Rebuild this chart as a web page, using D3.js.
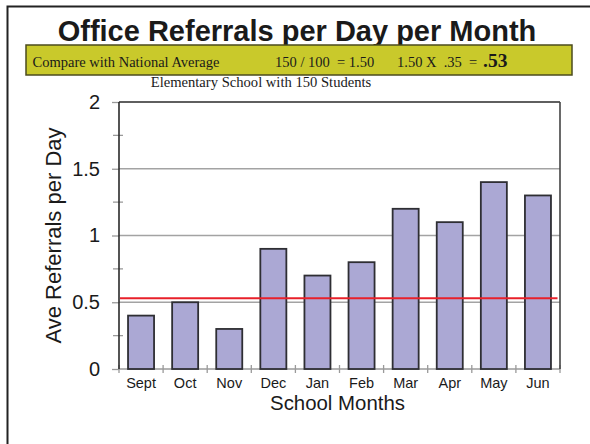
<!DOCTYPE html>
<html>
<head>
<meta charset="utf-8">
<script src="https://cdn.jsdelivr.net/npm/d3@7/dist/d3.min.js"></script>
<style>
  html, body { margin: 0; padding: 0; background: #fff; }
  svg { display: block; }
  text { white-space: pre; }
</style>
</head>
<body>
<svg id="chart" width="590" height="444"></svg>
<script>
// Office referrals per day, averaged for each school month
const months = ["Sept", "Oct", "Nov", "Dec", "Jan", "Feb", "Mar", "Apr", "May", "Jun"];
const referralsPerDay = [0.4, 0.5, 0.3, 0.9, 0.7, 0.8, 1.2, 1.1, 1.4, 1.3];
const majorTicks = [0, 0.5, 1, 1.5, 2];
const minorTicks = [0.25, 0.75, 1.25, 1.75];
const tickFormat = ["0", "0.5", "1", "1.5", "2"];
const nationalAverage = 0.53;

const titleText = "Office Referrals per Day per Month";
const bannerParts = ["Compare with National Average", "150 / 100  = 1.50", "1.50 X  .35  =", ".53"];
const subtitleText = "Elementary School with 150 Students";
const xTitle = "School Months";
const yTitle = "Ave Referrals per Day";

const svg = d3.select("#chart");
const sans = "'Liberation Sans', Arial, sans-serif";
const serif = "'Liberation Serif', 'Times New Roman', serif";

// slide frame
svg.append("rect")
  .attr("x", 7.5).attr("y", 6.5).attr("width", 620).attr("height", 470)
  .attr("fill", "none").attr("stroke", "#222").attr("stroke-width", 2);

// title
svg.append("text")
  .attr("x", 297).attr("y", 41)
  .attr("text-anchor", "middle")
  .attr("font-family", sans).attr("font-weight", "bold").attr("font-size", 29)
  .attr("fill", "#1a1a1a")
  .text(titleText);

// banner comparing with the national average
svg.append("rect")
  .attr("x", 26).attr("y", 45).attr("width", 546).attr("height", 30)
  .attr("fill", "#c9c92b").attr("stroke", "#4b4b1e").attr("stroke-width", 1.5);

const bannerX = [32.5, 275, 397, 483];
bannerParts.forEach((t, i) => {
  const last = i === bannerParts.length - 1;
  svg.append("text")
    .attr("x", bannerX[i]).attr("y", 66.5)
    .attr("font-family", serif)
    .attr("font-size", last ? 19.5 : 14.5)
    .attr("font-weight", last ? "bold" : "normal")
    .attr("fill", "#1a1a1a")
    .text(t);
});

svg.append("text")
  .attr("x", 261).attr("y", 87)
  .attr("text-anchor", "middle")
  .attr("font-family", serif).attr("font-size", 14.6)
  .attr("fill", "#1a1a1a")
  .text(subtitleText);

// plot area
const plot = { left: 119, right: 560, top: 102, bottom: 369 };

const x = d3.scaleBand()
  .domain(months)
  .range([plot.left, plot.right])
  .paddingInner(0.41)
  .paddingOuter(0.205);

const y = d3.scaleLinear()
  .domain([0, 2])
  .range([plot.bottom, plot.top]);

const g = svg.append("g");

// horizontal gridlines
g.selectAll("line.grid")
  .data(majorTicks.filter(d => d > 0 && d < 2))
  .join("line")
  .attr("class", "grid")
  .attr("x1", plot.left).attr("x2", plot.right)
  .attr("y1", d => y(d)).attr("y2", d => y(d))
  .attr("stroke", "#a3a3a3").attr("stroke-width", 1.3);

// baseline
g.append("line")
  .attr("x1", plot.left).attr("x2", plot.right)
  .attr("y1", y(0)).attr("y2", y(0))
  .attr("stroke", "#9a9a9a").attr("stroke-width", 1.5);

// y axis: major ticks and labels
const yAxis = d3.axisLeft(y)
  .tickValues(majorTicks)
  .tickFormat((d, i) => tickFormat[i])
  .tickSize(7)
  .tickPadding(12);

const yAxisG = svg.append("g")
  .attr("transform", `translate(${plot.left},0)`)
  .call(yAxis);
yAxisG.select(".domain").remove();
yAxisG.selectAll(".tick line").attr("stroke", "#9a9a9a").attr("stroke-width", 1.3);
yAxisG.selectAll(".tick text")
  .attr("font-family", sans).attr("font-size", 20)
  .attr("fill", "#1a1a1a");

// minor y ticks crossing the axis
svg.selectAll("line.minor")
  .data(minorTicks)
  .join("line")
  .attr("class", "minor")
  .attr("x1", plot.left - 6).attr("x2", plot.left + 4)
  .attr("y1", d => y(d)).attr("y2", d => y(d))
  .attr("stroke", "#9a9a9a").attr("stroke-width", 1.3);

// x tick marks at category boundaries
const bounds = months.map(m => x(m) - x.step() * x.paddingInner() / 2);
bounds[0] = plot.left;
bounds.push(plot.right);
svg.selectAll("line.xtick")
  .data(bounds)
  .join("line")
  .attr("class", "xtick")
  .attr("x1", d => d).attr("x2", d => d)
  .attr("y1", plot.bottom - 4).attr("y2", plot.bottom + 4)
  .attr("stroke", "#9a9a9a").attr("stroke-width", 1.3);

// x category labels
const xAxis = d3.axisBottom(x).tickSize(0).tickPadding(9);
const xAxisG = svg.append("g")
  .attr("transform", `translate(0,${plot.bottom})`)
  .call(xAxis);
xAxisG.select(".domain").remove();
xAxisG.selectAll(".tick text")
  .attr("font-family", sans).attr("font-size", 14.5)
  .attr("fill", "#1a1a1a");

// bars
svg.selectAll("rect.bar")
  .data(referralsPerDay)
  .join("rect")
  .attr("class", "bar")
  .attr("x", (d, i) => x(months[i]))
  .attr("y", d => y(d))
  .attr("width", x.bandwidth())
  .attr("height", d => y(0) - y(d))
  .attr("fill", "#aba8d4")
  .attr("stroke", "#2e2e33").attr("stroke-width", 1.8);

// plot frame: left axis, top and right edges
svg.append("line")
  .attr("x1", plot.left).attr("x2", plot.left)
  .attr("y1", plot.top).attr("y2", plot.bottom)
  .attr("stroke", "#2a2a2a").attr("stroke-width", 1.6);
svg.append("line")
  .attr("x1", plot.left).attr("x2", plot.right)
  .attr("y1", plot.top).attr("y2", plot.top)
  .attr("stroke", "#2a2a2a").attr("stroke-width", 1.6);
svg.append("line")
  .attr("x1", plot.right).attr("x2", plot.right)
  .attr("y1", plot.top).attr("y2", plot.bottom)
  .attr("stroke", "#444").attr("stroke-width", 1.6);

// national average reference line
svg.append("line")
  .attr("x1", plot.left + 1).attr("x2", plot.right - 2.5)
  .attr("y1", y(nationalAverage)).attr("y2", y(nationalAverage))
  .attr("stroke", "#e8202a").attr("stroke-width", 2);

// axis titles
svg.append("text")
  .attr("x", (plot.left + plot.right) / 2 - 2).attr("y", 410)
  .attr("text-anchor", "middle")
  .attr("font-family", sans).attr("font-size", 20.4)
  .attr("fill", "#1a1a1a")
  .text(xTitle);

svg.append("text")
  .attr("transform", `translate(61,${(plot.top + plot.bottom) / 2}) rotate(-90)`)
  .attr("text-anchor", "middle")
  .attr("font-family", sans).attr("font-size", 22)
  .attr("fill", "#1a1a1a")
  .text(yTitle);
</script>
</body>
</html>
